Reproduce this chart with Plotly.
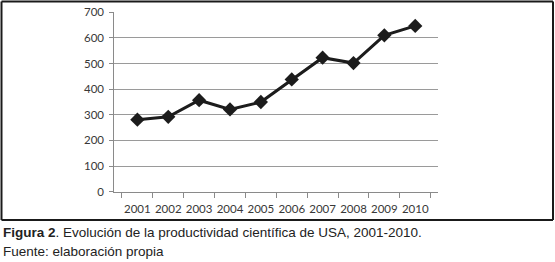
import plotly.graph_objects as go

years = ["2001", "2002", "2003", "2004", "2005", "2006", "2007", "2008", "2009", "2010"]
values = [281, 292, 357, 321, 350, 438, 523, 502, 610, 647]
y_ticks = [0, 100, 200, 300, 400, 500, 600, 700]

W, H = 555, 262
fig = go.Figure()
fig.add_trace(go.Scatter(
    x=years, y=values, mode="lines+markers",
    line=dict(color="#1c1c1c", width=3),
    marker=dict(symbol="diamond", size=11, color="#1c1c1c"),
    showlegend=False, cliponaxis=False,
))

fig.update_layout(
    width=W, height=H,
    margin=dict(l=0, r=0, t=0, b=0, autoexpand=False),
    paper_bgcolor="white", plot_bgcolor="white",
    xaxis=dict(
        domain=[114.3 / W, 438.3 / W],
        type="category", tickson="boundaries", tickangle=0, automargin=False,
        ticks="outside", ticklen=5, tickcolor="#8a8a8a", tickwidth=1,
        ticklabelstandoff=6,
        showline=True, linecolor="#8a8a8a", linewidth=1,
        showgrid=False, zeroline=False,
        tickfont=dict(family="Lato", size=11.5, color="#383838"),
    ),
    yaxis=dict(
        domain=[1 - 191.7 / H, 1 - 12.3 / H], automargin=False,
        range=[0, 700], tickvals=y_ticks,
        ticks="outside", ticklen=4, tickcolor="#8a8a8a",
        ticklabelstandoff=3,
        showline=True, linecolor="#8a8a8a", linewidth=1,
        showgrid=True, gridcolor="#9a9a9a", gridwidth=1,
        zeroline=False,
        tickfont=dict(family="Lato", size=11.5, color="#383838"),
    ),
    font=dict(family="Liberation Sans"),
)

# outer frame drawn as four separate edges
x0p, x1p = 1.5 / W, 553 / W
y0p, y1p = 1 - 220 / H, 1 - 1.5 / H
for (ax, ay, bx, by) in [(x0p, y1p, x1p, y1p), (x0p, y0p, x1p, y0p),
                         (x0p, y0p, x0p, y1p), (x1p, y0p, x1p, y1p)]:
    fig.add_shape(type="line", xref="paper", yref="paper", layer="above",
                  x0=ax, y0=ay, x1=bx, y1=by,
                  line=dict(color="#1a1a1a", width=2))

fig.add_annotation(xref="paper", yref="paper", x=1 / W, y=1 - 232 / H,
                   xanchor="left", yanchor="middle", showarrow=False,
                   text="<b>Figura 2</b>. Evolución de la productividad científica de USA, 2001-2010.",
                   font=dict(family="Liberation Sans", size=13.5, color="#222222"))
fig.add_annotation(xref="paper", yref="paper", x=1 / W, y=1 - 251.5 / H,
                   xanchor="left", yanchor="middle", showarrow=False,
                   text="Fuente: elaboración propia",
                   font=dict(family="Liberation Sans", size=13.5, color="#222222"))

fig.write_html("out.html", config={"displayModeBar": False},
               post_script="document.body.style.margin='0';document.body.style.overflow='hidden';")
